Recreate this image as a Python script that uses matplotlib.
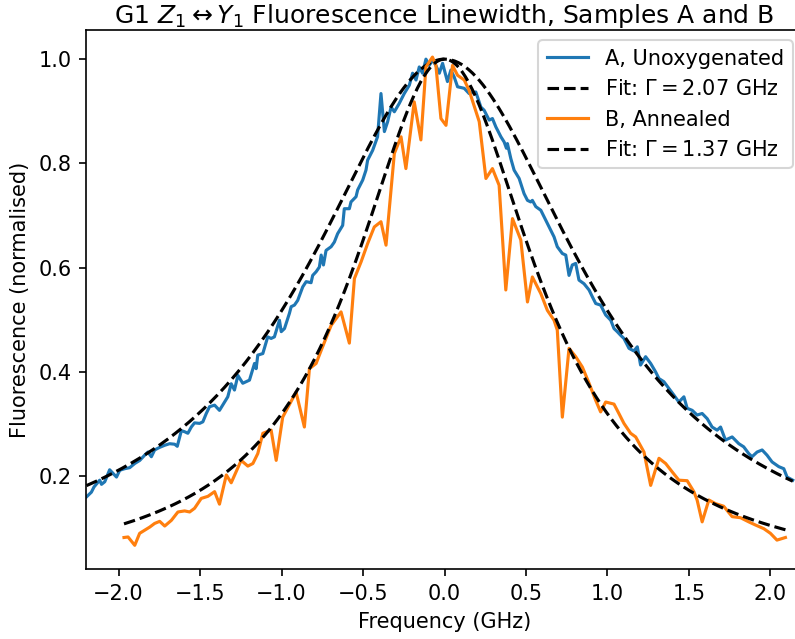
#!/usr/bin/env python3
import numpy as np
import matplotlib
matplotlib.use("Agg")
import matplotlib.pyplot as plt

# Sample A (unoxygenated)
freq_a = [-2.197, -2.167, -2.151, -2.116, -2.105, -2.085, -2.055, -2.034, -2.013, -1.993,
          -1.963, -1.932, -1.901, -1.870, -1.840, -1.820, -1.799, -1.779, -1.748, -1.717,
          -1.687, -1.656, -1.640, -1.615, -1.595, -1.575, -1.554, -1.534, -1.503, -1.483,
          -1.462, -1.442, -1.411, -1.381, -1.350, -1.330, -1.309, -1.289, -1.268, -1.238,
          -1.197, -1.166, -1.156, -1.146, -1.115, -1.085, -1.064, -1.044, -1.013, -1.002,
          -0.982, -0.952, -0.941, -0.921, -0.901, -0.870, -0.849, -0.819, -0.809, -0.788,
          -0.768, -0.757, -0.743, -0.727, -0.696, -0.676, -0.656, -0.625, -0.615, -0.584,
          -0.574, -0.543, -0.533, -0.502, -0.482, -0.472, -0.451, -0.441, -0.411, -0.390,
          -0.369, -0.349, -0.328, -0.308, -0.278, -0.247, -0.216, -0.196, -0.175, -0.155,
          -0.135, -0.114, -0.094, -0.074, -0.053, -0.032, -0.012, 0.018, 0.039, 0.059,
          0.080, 0.121, 0.151, 0.192, 0.223, 0.243, 0.274, 0.294, 0.315, 0.346,
          0.366, 0.380, 0.386, 0.407, 0.427, 0.458, 0.488, 0.509, 0.529, 0.539,
          0.560, 0.591, 0.621, 0.642, 0.672, 0.692, 0.723, 0.744, 0.764, 0.784,
          0.805, 0.825, 0.856, 0.887, 0.907, 0.928, 0.958, 0.989, 1.020, 1.040,
          1.060, 1.081, 1.101, 1.132, 1.162, 1.183, 1.203, 1.234, 1.265, 1.295,
          1.316, 1.346, 1.377, 1.408, 1.438, 1.469, 1.489, 1.520, 1.550, 1.581,
          1.612, 1.642, 1.673, 1.694, 1.724, 1.744, 1.765, 1.806, 1.836, 1.867,
          1.887, 1.918, 1.949, 1.979, 2.010, 2.051, 2.082, 2.102, 2.137]
fluor_a = [0.160, 0.169, 0.179, 0.192, 0.184, 0.189, 0.212, 0.205, 0.198, 0.211,
           0.214, 0.216, 0.224, 0.230, 0.240, 0.246, 0.237, 0.250, 0.255, 0.259,
           0.262, 0.261, 0.257, 0.287, 0.285, 0.282, 0.294, 0.302, 0.301, 0.304,
           0.320, 0.333, 0.336, 0.326, 0.342, 0.352, 0.377, 0.365, 0.393, 0.378,
           0.384, 0.416, 0.406, 0.432, 0.435, 0.467, 0.464, 0.467, 0.499, 0.477,
           0.483, 0.512, 0.525, 0.528, 0.537, 0.563, 0.573, 0.571, 0.585, 0.592,
           0.601, 0.624, 0.605, 0.633, 0.640, 0.649, 0.665, 0.681, 0.713, 0.713,
           0.726, 0.736, 0.749, 0.768, 0.787, 0.806, 0.819, 0.825, 0.851, 0.934,
           0.861, 0.880, 0.908, 0.899, 0.915, 0.934, 0.950, 0.973, 0.960, 0.985,
           0.973, 1.000, 0.988, 0.998, 0.988, 0.973, 0.992, 0.957, 0.979, 0.966,
           0.947, 0.944, 0.934, 0.937, 0.908, 0.902, 0.883, 0.886, 0.870, 0.851,
           0.841, 0.829, 0.838, 0.809, 0.787, 0.771, 0.742, 0.729, 0.726, 0.729,
           0.717, 0.710, 0.691, 0.678, 0.659, 0.640, 0.627, 0.624, 0.585, 0.605,
           0.608, 0.576, 0.569, 0.557, 0.544, 0.531, 0.528, 0.509, 0.499, 0.483,
           0.477, 0.470, 0.464, 0.445, 0.440, 0.448, 0.413, 0.429, 0.416, 0.400,
           0.387, 0.381, 0.368, 0.355, 0.342, 0.352, 0.330, 0.326, 0.317, 0.320,
           0.310, 0.294, 0.288, 0.294, 0.269, 0.272, 0.275, 0.262, 0.256, 0.243,
           0.237, 0.246, 0.250, 0.240, 0.227, 0.218, 0.214, 0.198, 0.192]

# Sample B (annealed)
freq_b = [-1.967, -1.942, -1.901, -1.871, -1.840, -1.809, -1.779, -1.748, -1.717, -1.676,
          -1.636, -1.595, -1.564, -1.534, -1.493, -1.452, -1.411, -1.381, -1.339, -1.309,
          -1.248, -1.207, -1.176, -1.146, -1.115, -1.064, -1.033, -0.993, -0.911, -0.860,
          -0.829, -0.788, -0.757, -0.696, -0.635, -0.584, -0.553, -0.512, -0.472, -0.431,
          -0.390, -0.359, -0.308, -0.267, -0.237, -0.186, -0.145, -0.114, -0.074, -0.053,
          -0.022, 0.009, 0.049, 0.080, 0.121, 0.151, 0.213, 0.254, 0.294, 0.335,
          0.376, 0.417, 0.468, 0.509, 0.539, 0.591, 0.631, 0.672, 0.692, 0.723,
          0.764, 0.805, 0.846, 0.887, 0.928, 0.958, 0.989, 1.040, 1.070, 1.101,
          1.142, 1.173, 1.224, 1.265, 1.316, 1.357, 1.397, 1.438, 1.489, 1.530,
          1.550, 1.581, 1.622, 1.663, 1.713, 1.765, 1.816, 1.867, 1.908, 1.959,
          2.000, 2.040, 2.092]
fluor_b = [0.082, 0.083, 0.067, 0.090, 0.096, 0.102, 0.109, 0.113, 0.104, 0.115,
           0.131, 0.133, 0.131, 0.138, 0.157, 0.161, 0.170, 0.146, 0.202, 0.187,
           0.230, 0.219, 0.224, 0.243, 0.282, 0.288, 0.230, 0.313, 0.361, 0.294,
           0.406, 0.416, 0.441, 0.489, 0.515, 0.455, 0.579, 0.611, 0.646, 0.678,
           0.688, 0.643, 0.819, 0.851, 0.790, 0.918, 0.845, 0.985, 1.004, 0.988,
           0.886, 0.873, 0.988, 0.969, 0.960, 0.940, 0.880, 0.771, 0.790, 0.758,
           0.557, 0.694, 0.653, 0.534, 0.582, 0.550, 0.518, 0.499, 0.480, 0.313,
           0.445, 0.429, 0.409, 0.378, 0.345, 0.323, 0.342, 0.338, 0.320, 0.301,
           0.282, 0.275, 0.246, 0.182, 0.234, 0.224, 0.208, 0.192, 0.191, 0.170,
           0.154, 0.112, 0.154, 0.147, 0.142, 0.122, 0.120, 0.112, 0.106, 0.099,
           0.090, 0.077, 0.082]

# Lorentzian fit parameters (FWHM in GHz)
gamma_a = 2.07
gamma_b = 1.37


def lorentzian(x, gamma):
    return 1.0 / (1.0 + (2.0 * x / gamma) ** 2)


def main():
    fig = plt.figure(figsize=(5.3, 4.26), dpi=150)
    # the reference is cropped a little on the right, so the axes run past the edge
    ax = fig.add_axes([0.1082, 0.1091, 0.9019, 0.844])

    xa = np.linspace(min(freq_a), max(freq_a), 400)
    xb = np.linspace(min(freq_b), max(freq_b), 400)

    ax.plot(freq_a, fluor_a, color="tab:blue", label="A, Unoxygenated")
    ax.plot(xa, lorentzian(xa, gamma_a), "k--",
            label=rf"Fit: $\Gamma = {gamma_a:.2f}$ GHz")
    ax.plot(freq_b, fluor_b, color="tab:orange", label="B, Annealed")
    ax.plot(xb, lorentzian(xb, gamma_b), "k--",
            label=rf"Fit: $\Gamma = {gamma_b:.2f}$ GHz")

    ax.set_xlim(-2.2, 2.2)
    ax.set_ylim(0.021, 1.056)
    ax.set_xlabel("Frequency (GHz)")
    ax.set_ylabel("Fluorescence (normalised)")
    ax.set_title(r"G1 $Z_1 \leftrightarrow Y_1$ Fluorescence Linewidth, Samples A and B",
                 pad=3)
    ax.legend(loc="upper right")

    fig.savefig("out.png", dpi=150)


if __name__ == "__main__":
    main()
